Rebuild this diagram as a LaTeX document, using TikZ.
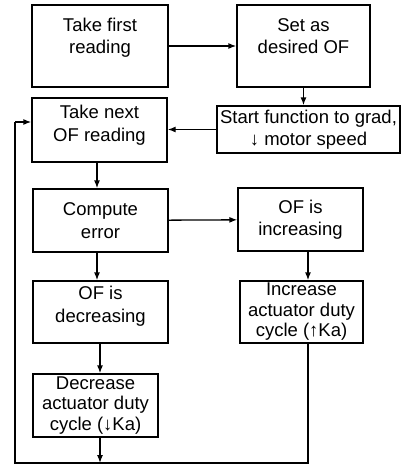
\documentclass[tikz,border=0pt]{standalone}
\usepackage{fontspec}
\setmainfont{Liberation Sans}
\usetikzlibrary{arrows.meta}

\begin{document}
\begin{tikzpicture}[x=1pt,y=-1pt,
    box/.style={draw,line width=1.3pt,align=center,inner sep=0pt,font=\fontsize{18.5}{22.5}\selectfont},
    tight/.style={font=\fontsize{18.5}{20.5}\selectfont},
    arr/.style={-{Latex[length=8pt,width=6pt]},line width=1.3pt}]
        \useasboundingbox (0,0) rectangle (401,466);
        % top row
        \node[box,minimum width=136,minimum height=82,text depth=20pt] (first) at (100,46) {Take first\\reading};
        \node[box,minimum width=133,minimum height=82,text depth=20pt] (desired) at (303.5,46) {Set as\\desired OF};
        % second row
        \node[box,minimum width=135,minimum height=64,text depth=13pt] (next) at (99.5,130) {Take next\\OF reading};
        \node[box,minimum width=183,minimum height=47] (grad) at (308.5,129.5) {Start function to grad,\\↓ motor speed};
        % middle
        \node[box,minimum width=135,minimum height=63] (error) at (100.5,220.5) {Compute\\error};
        \node[box,minimum width=125,minimum height=63] (incr) at (300.5,219.5) {OF is\\increasing};
        \node[box,minimum width=135,minimum height=62,text depth=15pt] (decr) at (100.5,312) {OF is\\decreasing};
        \node[box,tight,minimum width=123,minimum height=62] (incact) at (301.5,312) {Increase\\actuator duty\\cycle (↑Ka)};
        \node[box,tight,minimum width=125,minimum height=63] (decact) at (95.5,405.5) {Decrease\\actuator duty\\cycle (↓Ka)};
        % return path
        \coordinate (lb) at (15,463);
        \coordinate (rb) at (308,463);
        \draw[arr] (first) -- (desired);
        \draw[arr] (desired.south) -- (desired.south |- grad.north);
        \draw[arr] (grad.west) -- (grad.west -| next.east);
        \draw[arr] (next.south -| 97,0) -- (error.north -| 97,0);
        \draw[arr] (error) -- (incr);
        \draw[arr] (error.south -| 97,0) -- (decr.north -| 97,0);
        \draw[arr] (incr.south -| rb) -- (incact.north -| rb);
        \draw[arr] (decr.south -| 100,0) -- (decact.north -| 100,0);
        \draw[arr] (decact.south -| 100,0) -- (lb -| 100,0);
        \draw[line width=1.3pt] (incact.south -| rb) -- (rb) -- (lb) -- (lb |- 0,122);
        \draw[arr] (lb |- 0,122) -- (next.west |- 0,122);
      \end{tikzpicture}
\end{document}
